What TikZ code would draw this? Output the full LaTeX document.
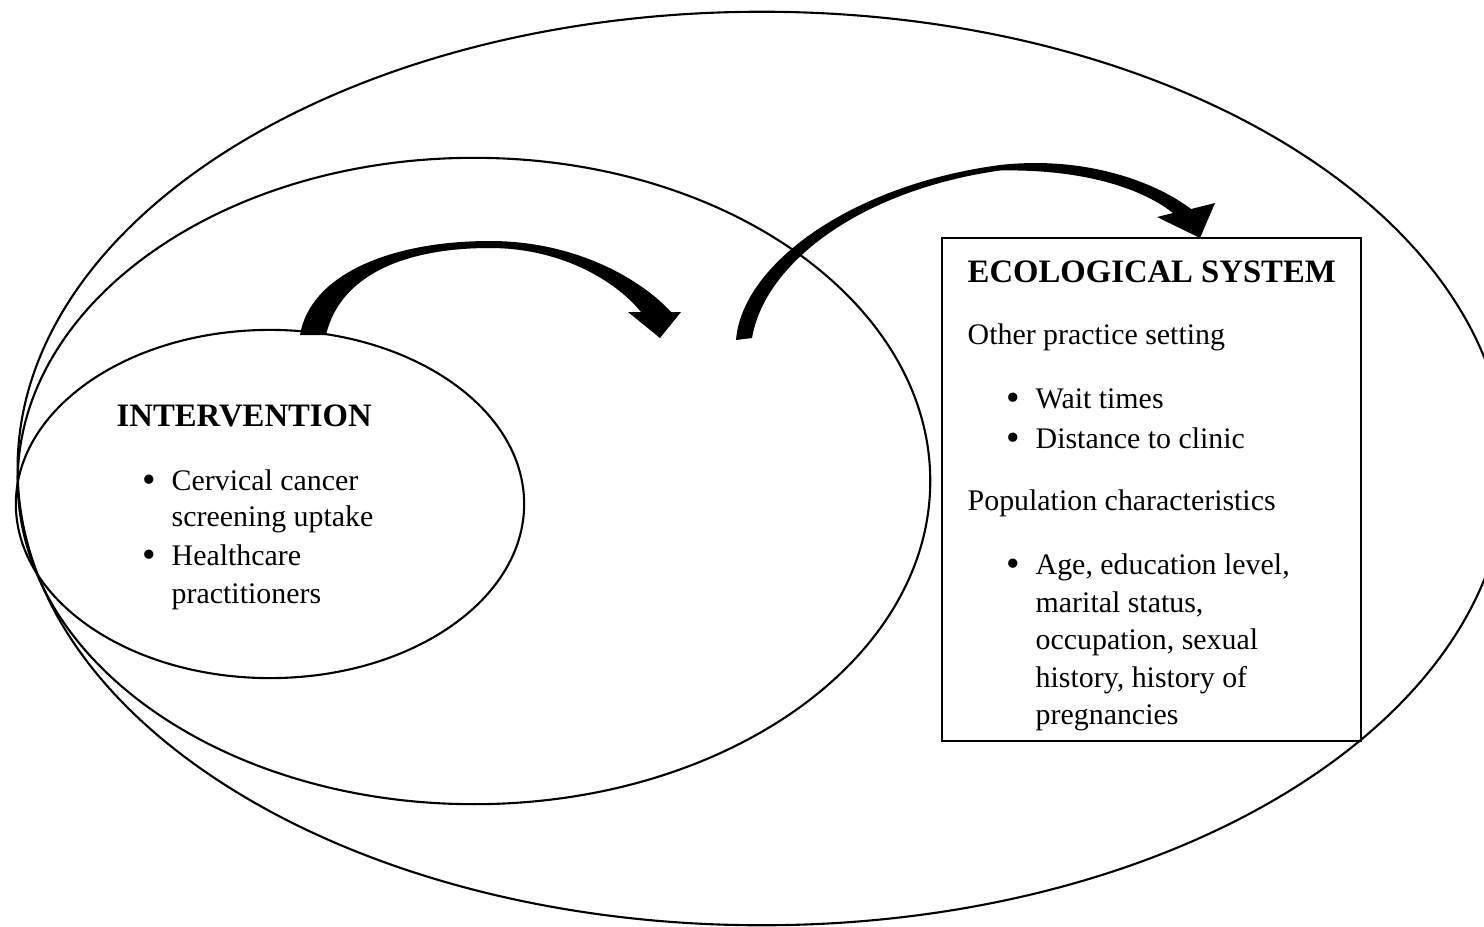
\documentclass[tikz,border=0pt]{standalone}
\usepackage{fontspec}
\setmainfont{Liberation Serif}
\usetikzlibrary{shapes.geometric}
\begin{document}
\begin{tikzpicture}[x=0.01cm,y=-0.01cm,
  oval/.style={draw, shape=ellipse, inner sep=0pt, line width=0.6pt},
  framebox/.style={draw, rectangle, inner sep=0pt, line width=0.7pt},
  heading/.style={font=\fontsize{9.3}{11}\selectfont\bfseries, anchor=base west, inner sep=0pt},
  body/.style={font=\fontsize{8.5}{10.6}\selectfont, anchor=base west, inner sep=0pt},
  dot/.style={font=\fontsize{11}{12}\selectfont, anchor=base, inner sep=0pt, yshift=-0.6pt},
  bigarrow/.style={fill=black}]
\useasboundingbox (0,0) rectangle (1484,927);
\clip (0,0) rectangle (1484,927);

% ellipses
\node[oval, minimum width=14.88cm, minimum height=9.13cm] (outer) at (762,468.5) {};
\node[oval, minimum width=9.12cm, minimum height=6.46cm] (middle) at (474,481) {};
\node[oval, minimum width=5.08cm, minimum height=3.48cm] (inner) at (270,504) {};

% box
\node[framebox, minimum width=4.19cm, minimum height=5.03cm] (eco) at (1151.5,489.5) {};

% arrows
\fill[bigarrow] (300,335) .. controls (310,275) and (390,241) .. (490,241)
  .. controls (580,241) and (645,283) .. (671,312) -- (681,312) -- (660,338) -- (628,312) -- (641,312)
  .. controls (615,280) and (560,248) .. (490,248)
  .. controls (405,248) and (340,275) .. (326,335) -- cycle;
\fill[bigarrow] (736,340) .. controls (742,265) and (850,185) .. (1000,165)
  .. controls (1090,155) and (1160,185) .. (1191,209) -- (1215,203) -- (1200,238) -- (1157,217) -- (1173,213)
  .. controls (1140,187) and (1080,169) .. (1000,170.5)
  .. controls (862,190) and (765,262) .. (752,338) -- cycle;

% intervention text
\node[heading] (intT) at (116,426) {INTERVENTION};
\node[dot] (ib1) at (149,490) {\textbullet};
\node[body] (i1a) at (171,490) {Cervical cancer};
\node[body] (i1b) at (171,526) {screening uptake};
\node[dot] (ib2) at (149,565) {\textbullet};
\node[body] (i2a) at (171,565) {Healthcare};
\node[body] (i2b) at (171,603) {practitioners};

% ecological system text
\node[heading] (ecoT) at (967,282) {ECOLOGICAL SYSTEM};
\node[body] (e1) at (967,344) {Other practice setting};
\node[dot] (eb1) at (1013,408) {\textbullet};
\node[body] (e1a) at (1035,408) {Wait times};
\node[dot] (eb2) at (1013,448) {\textbullet};
\node[body] (e1b) at (1035,448) {Distance to clinic};
\node[body] (e2) at (967,510) {Population characteristics};
\node[dot] (eb3) at (1013,574) {\textbullet};
\node[body] (e2a) at (1035,574) {Age, education level,};
\node[body] (e2b) at (1035,612) {marital status,};
\node[body] (e2c) at (1035,649) {occupation, sexual};
\node[body] (e2d) at (1035,687) {history, history of};
\node[body] (e2e) at (1035,724) {pregnancies};
\end{tikzpicture}
\end{document}
